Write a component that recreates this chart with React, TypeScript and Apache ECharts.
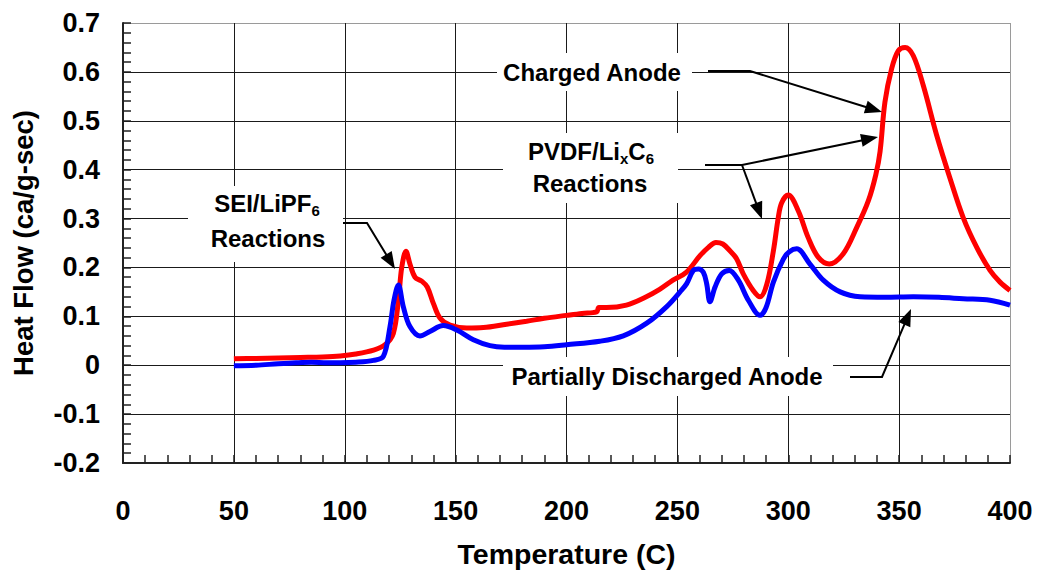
import React, { useEffect, useRef } from "react";
import * as echarts from "echarts";

// ---------- data ----------
const chargedT = [50, 60, 70, 80, 90, 98, 105, 113, 118.2, 121.9, 124.2, 125.7, 127.6, 129.4, 131.7, 134.7, 137.2, 140, 143, 147.5, 155, 162.5, 173, 182, 190, 200, 207, 213.6, 214.6, 218, 227, 236, 242, 248, 254, 260.2, 264, 267.4, 270.5, 273.7, 276.7, 279.7, 284.2, 287.3, 290.3, 293.3, 295.5, 297, 300, 304.5, 309, 313.5, 318.5, 324.8, 330.9, 336.1, 339.5, 341.4, 343.6, 346.6, 349.6, 352.7, 356.4, 360.9, 366.9, 372.9, 378.9, 385, 391, 395.5, 400];
const chargedHF = [0.013, 0.014, 0.015, 0.016, 0.017, 0.019, 0.023, 0.031, 0.042, 0.065, 0.133, 0.2, 0.233, 0.207, 0.18, 0.172, 0.16, 0.126, 0.096, 0.082, 0.076, 0.077, 0.084, 0.09, 0.096, 0.102, 0.106, 0.109, 0.118, 0.118, 0.123, 0.14, 0.155, 0.174, 0.19, 0.224, 0.241, 0.251, 0.248, 0.234, 0.218, 0.187, 0.153, 0.14, 0.165, 0.234, 0.302, 0.332, 0.348, 0.316, 0.261, 0.221, 0.207, 0.228, 0.282, 0.336, 0.39, 0.437, 0.538, 0.606, 0.643, 0.65, 0.633, 0.572, 0.471, 0.383, 0.302, 0.241, 0.194, 0.17, 0.153];

const partialT = [50, 60, 70, 78, 85, 92, 98, 105, 112.9, 117.4, 120.4, 122.2, 124.2, 126.4, 129.4, 133.9, 138.4, 144.4, 150.5, 158, 165.5, 172, 180.5, 190, 200, 215, 225.6, 236.2, 245.2, 251.2, 254.2, 257.2, 259.5, 261.7, 263.2, 264.7, 267, 270, 273.4, 277.5, 282, 287.3, 290, 293.3, 297.8, 300.5, 303.8, 309.8, 315.8, 323.4, 332.4, 343.6, 356.4, 368, 378.9, 391, 400];
const partialHF = [-0.001, 0.0, 0.003, 0.005, 0.006, 0.005, 0.005, 0.006, 0.01, 0.018, 0.079, 0.133, 0.164, 0.12, 0.079, 0.06, 0.069, 0.081, 0.072, 0.052, 0.04, 0.037, 0.037, 0.038, 0.042, 0.049, 0.06, 0.086, 0.12, 0.15, 0.167, 0.194, 0.197, 0.19, 0.167, 0.13, 0.16, 0.187, 0.194, 0.174, 0.133, 0.102, 0.118, 0.17, 0.217, 0.232, 0.238, 0.207, 0.174, 0.15, 0.14, 0.139, 0.14, 0.139, 0.136, 0.133, 0.123];

const seriesNames = ["Charged Anode", "Partially Discharged Anode"];
const xTitle = "Temperature (C)";
const yTitle = "Heat Flow (ca/g-sec)";

// ---------- styling ----------
const FONT = '"Liberation Sans", Arial, Helvetica, sans-serif';
const GRID = { left: 123, right: 27, top: 23, bottom: 106 };

type Pt = [number, number];

function arrowElements(points: Pt[]) {
  const els: any[] = [];
  const n = points.length;
  const tip = points[n - 1];
  const prev = points[n - 2];
  const dx = tip[0] - prev[0];
  const dy = tip[1] - prev[1];
  const len = Math.sqrt(dx * dx + dy * dy);
  const ux = dx / len;
  const uy = dy / len;
  const L = 17;
  const W = 6.5;
  const base: Pt = [tip[0] - ux * L, tip[1] - uy * L];
  const linePts = points.slice(0, n - 1).concat([[tip[0] - ux * L * 0.7, tip[1] - uy * L * 0.7]]);
  els.push({
    type: "polyline",
    z: 5,
    shape: { points: linePts },
    style: { stroke: "#000", lineWidth: 2, fill: null },
  });
  els.push({
    type: "polygon",
    z: 5,
    shape: {
      points: [
        tip,
        [base[0] - uy * W, base[1] + ux * W],
        [base[0] + uy * W, base[1] - ux * W],
      ],
    },
    style: { fill: "#000" },
  });
  return els;
}

function box(x: number, y: number, w: number, h: number) {
  return { type: "rect", z: 1, shape: { x, y, width: w, height: h }, style: { fill: "#fff" } };
}

const rich = {
  n: { fontSize: 24, fontWeight: "bold", fontFamily: FONT, lineHeight: 30, fill: "#000" },
  s: { fontSize: 15, fontWeight: "bold", fontFamily: FONT, lineHeight: 13, verticalAlign: "bottom", fill: "#000" },
};

function label(text: string, x: number, y: number) {
  return {
    type: "text",
    z: 2,
    x,
    y,
    style: {
      text,
      rich,
      align: "center",
      verticalAlign: "middle",
      fontSize: 24,
      fontWeight: "bold",
      fontFamily: FONT,
      fill: "#000",
    },
  };
}

export default function App() {
  const ref = useRef<HTMLDivElement>(null);

  useEffect(() => {
    if (!ref.current) return;
    const chart = echarts.init(ref.current, null, { renderer: "svg" });

    const charged = chargedT.map((t, i) => [t, chargedHF[i]]);
    const partial = partialT.map((t, i) => [t, partialHF[i]]);

    const gridDark = "#1a1a1a";
    const borderGray = "#9a9a9a";

    const graphic: any[] = [
      box(188, 186, 155, 76),
      box(497, 53, 195, 38),
      box(503, 133, 175, 70),
      box(503, 357, 330, 39),
      label("{n|SEI/LiPF}{s|6}", 267, 203),
      label("{n|Reactions}", 268, 238),
      label("{n|Charged Anode}", 592, 72),
      label("{n|PVDF/Li}{s|x}{n|C}{s|6}", 591, 151),
      label("{n|Reactions}", 590, 183),
      label("{n|Partially Discharged Anode}", 667, 376),
      ...arrowElements([[343, 223], [367, 223], [395, 269]]),
      ...arrowElements([[708, 71], [750, 71], [882, 112]]),
      ...arrowElements([[705, 165], [742, 165], [878, 137]]),
      ...arrowElements([[742, 165], [762, 219]]),
      ...arrowElements([[850, 377], [882, 377], [911, 309]]),
    ];

    chart.setOption({
      animation: false,
      backgroundColor: "#fff",
      grid: { ...GRID, containLabel: false },
      xAxis: {
        type: "value",
        min: 0,
        max: 400,
        interval: 50,
        name: xTitle,
        nameLocation: "middle",
        nameGap: 76,
        nameTextStyle: { fontSize: 28.5, fontWeight: "bold", fontFamily: FONT, color: "#000" },
        axisLine: { show: true, onZero: false, lineStyle: { color: "#222", width: 2 } },
        axisTick: { show: true, inside: true, length: 8, lineStyle: { color: "#222", width: 1.5 } },
        minorTick: { show: true, splitNumber: 5, length: 8, lineStyle: { color: "#222", width: 1.5 } },
        axisLabel: { fontSize: 27, fontWeight: "bold", fontFamily: FONT, color: "#000", margin: 34 },
        splitLine: {
          show: true,
          lineStyle: {
            color: [gridDark, gridDark, gridDark, gridDark, gridDark, gridDark, gridDark, gridDark, borderGray],
            width: 1,
          },
        },
      },
      yAxis: {
        type: "value",
        min: -0.2,
        max: 0.7,
        interval: 0.1,
        name: yTitle,
        nameLocation: "middle",
        nameGap: 86,
        nameTextStyle: { fontSize: 27.5, fontWeight: "bold", fontFamily: FONT, color: "#000" },
        axisLine: { show: true, onZero: false, lineStyle: { color: "#222", width: 2 } },
        axisTick: { show: true, inside: true, length: 8, lineStyle: { color: "#222", width: 1.5 } },
        minorTick: { show: true, splitNumber: 5, length: 8, lineStyle: { color: "#222", width: 1.5 } },
        axisLabel: {
          fontSize: 27,
          fontWeight: "bold",
          fontFamily: FONT,
          color: "#000",
          margin: 23,
          formatter: (v: number) => (Math.abs(v) < 1e-9 ? "0" : v.toFixed(1)),
        },
        splitLine: {
          show: true,
          lineStyle: {
            color: [gridDark, gridDark, gridDark, gridDark, gridDark, gridDark, gridDark, gridDark, gridDark, borderGray],
            width: 1,
          },
        },
      },
      series: [
        {
          name: seriesNames[0],
          type: "line",
          data: charged,
          showSymbol: false,
          smooth: 0.35,
          z: 3,
          lineStyle: { color: "#ff0000", width: 5 },
        },
        {
          name: seriesNames[1],
          type: "line",
          data: partial,
          showSymbol: false,
          smooth: 0.35,
          z: 3,
          lineStyle: { color: "#0000ff", width: 5 },
        },
      ],
      graphic,
    });

    return () => chart.dispose();
  }, []);

  return (
    <div
      ref={ref}
      style={{ position: "absolute", left: 0, top: 0, width: 1037, height: 573, background: "#fff" }}
    />
  );
}
